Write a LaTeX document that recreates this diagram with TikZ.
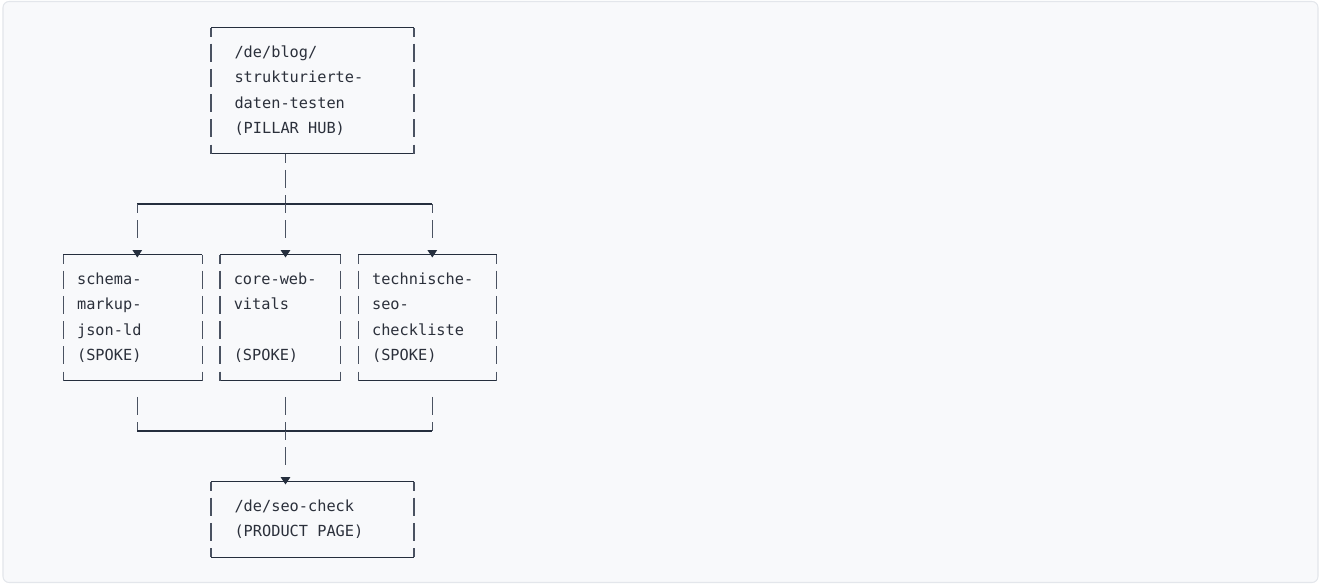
\documentclass[tikz,border=0pt]{standalone}
\usepackage{fontspec}
\setmonofont[WordSpace={1,0,0}]{DejaVu Sans Mono}
\usepackage{xcolor}
\usepackage{tikz}
\usetikzlibrary{calc}
\usetikzlibrary{arrows.meta}
\usetikzlibrary{positioning}

\definecolor{inkline}{HTML}{252E3D}
\definecolor{inkside}{HTML}{4A5261}
\definecolor{inktext}{HTML}{2B303B}
\definecolor{paper}{HTML}{F8F9FB}
\definecolor{paperedge}{HTML}{E3E6EB}

\tikzset{
	pagebox/.style={rectangle,draw=none,outer sep=0pt,inner ysep=0pt,anchor=north west,align=flush left,
		text=inktext,font=\ttfamily\fontsize{8.7}{14.35}\selectfont},
	hubbox/.style={pagebox,minimum width=4.06cm,text width=3.12cm,inner xsep=0.47cm},
	spokebox/.style={pagebox,minimum height=2.522cm,inner xsep=0.275cm},
	hline/.style={line width=0.75pt,draw=inkline},
	vline/.style={line width=0.7pt,draw=inkside,dash pattern=on 0.36cm off 0.1444cm,dash phase=0.18cm},
	dropline/.style={line width=0.7pt,draw=inkside,dash pattern=on 0.18cm off 0.1444cm on 0.36cm off 1cm,
		-{Triangle[width=0.19cm,length=0.15cm,color=inkline]},shorten >=-0.06cm},
	riseline/.style={vline,dash phase=0.36cm,shorten <=0.18cm}
}

\begin{document}
\begin{tikzpicture}[transform shape,scale=1]
	\useasboundingbox (0,0) rectangle (26.4,-11.68);
	\draw[rounded corners=0.12cm,fill=paper,draw=paperedge,line width=0.6pt] (0.06,-0.03) rectangle (26.36,-11.65);

	\node[hubbox,minimum height=2.522cm] (hub) at (4.22,-0.55) {\strut/de/blog/\\\strut strukturierte-\\\strut daten-testen\\\strut(PILLAR HUB)};
	\node[spokebox,minimum width=2.78cm,text width=2.23cm] (s1) at (1.266,-5.09) {\strut schema-\\\strut markup-\\\strut json-ld\\\strut(SPOKE)};
	\node[spokebox,minimum width=2.41cm,text width=1.86cm] (s2) at (4.40,-5.09) {\strut core-web-\\\strut vitals\\\strut\\\strut(SPOKE)};
	\node[spokebox,minimum width=2.77cm,text width=2.22cm] (s3) at (7.166,-5.09) {\strut technische-\\\strut seo-\\\strut checkliste\\\strut(SPOKE)};
	\node[hubbox,minimum height=1.5132cm] (prod) at (4.22,-9.63) {\strut/de/seo-check\\\strut(PRODUCT PAGE)};

	\coordinate (jl) at (2.746,-4.081);
	\coordinate (jc) at (5.71,-4.081);
	\coordinate (jr) at (8.646,-4.081);
	\coordinate (ml) at (2.746,-8.62);
	\coordinate (mc) at (5.71,-8.62);
	\coordinate (mr) at (8.646,-8.62);

	\draw[hline] (hub.north west) -- (hub.north east) (hub.south west) -- (hub.south east);
	\draw[vline] (hub.north west) -- (hub.south west) (hub.north east) -- (hub.south east);
	\draw[hline] (s1.north west) -- (s1.north east) (s1.south west) -- (s1.south east);
	\draw[vline] (s1.north west) -- (s1.south west) (s1.north east) -- (s1.south east);
	\draw[hline] (s2.north west) -- (s2.north east) (s2.south west) -- (s2.south east);
	\draw[vline] (s2.north west) -- (s2.south west) (s2.north east) -- (s2.south east);
	\draw[hline] (s3.north west) -- (s3.north east) (s3.south west) -- (s3.south east);
	\draw[vline] (s3.north west) -- (s3.south west) (s3.north east) -- (s3.south east);
	\draw[hline] (prod.north west) -- (prod.north east) (prod.south west) -- (prod.south east);
	\draw[vline] (prod.north west) -- (prod.south west) (prod.north east) -- (prod.south east);

	\draw[vline] (hub.south -| jc) -- (jc);
	\draw[hline] (jl) -- (jr);
	\draw[dropline] (jl) -- (s1.north -| jl);
	\draw[dropline] (jc) -- (s2.north -| jc);
	\draw[dropline] (jr) -- (s3.north -| jr);
	\draw[riseline] (s1.south -| ml) -- (ml);
	\draw[riseline] (s2.south -| mc) -- (mc);
	\draw[riseline] (s3.south -| mr) -- (mr);
	\draw[hline] (ml) -- (mr);
	\draw[dropline] (mc) -- (prod.north -| mc);
\end{tikzpicture}
\end{document}
